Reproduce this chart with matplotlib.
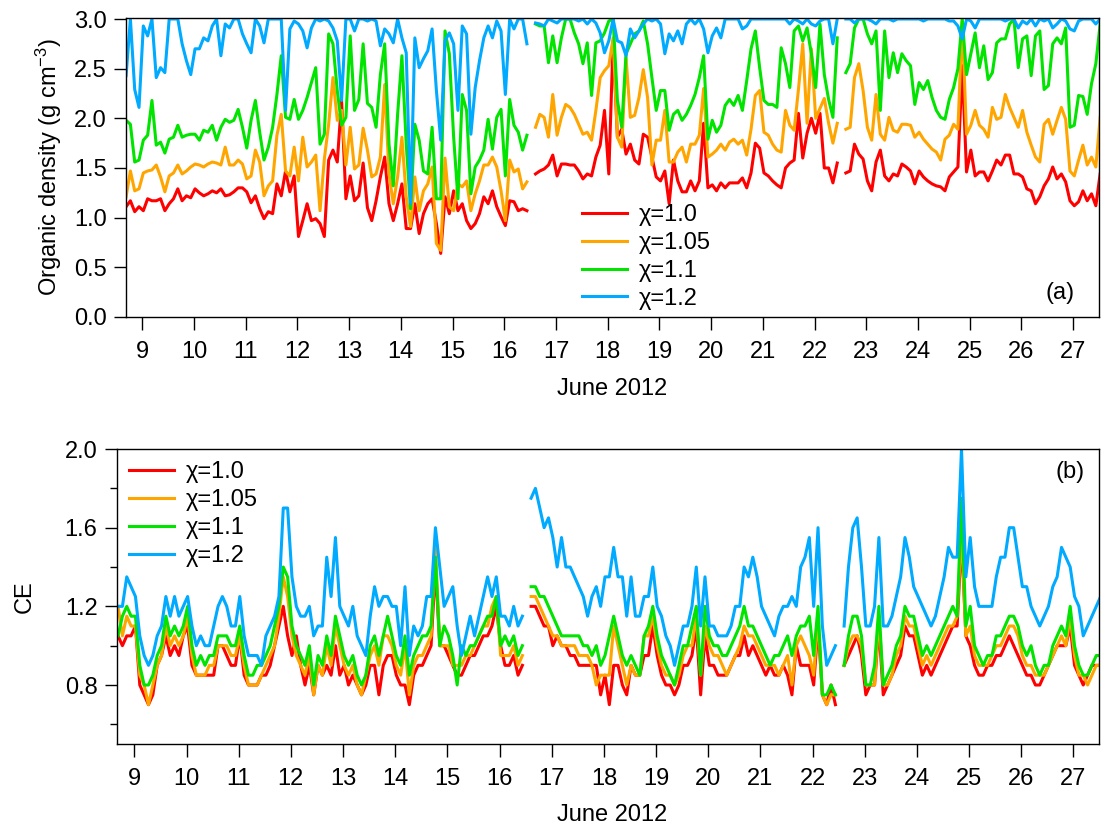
import numpy as np
import matplotlib
matplotlib.use('Agg')
import matplotlib.pyplot as plt
from matplotlib.ticker import MultipleLocator, FormatStrFormatter

plt.rcParams['font.family'] = ['Liberation Sans', 'DejaVu Sans']
plt.rcParams['mathtext.default'] = 'regular'

nan = np.nan

# 2-hourly samples, day of June 2012 (first point 8 June 16:30)
start_day = 8.6875
step_days = 1.0 / 12

# organic density (g cm-3) for each chi
dens_10 = [1.11, 1.17, 1.06, 1.11, 1.07, 1.19, 1.17, 1.17, 1.19, 1.07, 1.14, 1.19,
           1.29, 1.17, 1.22, 1.20, 1.29, 1.25, 1.22, 1.24, 1.27, 1.25, 1.29, 1.22,
           1.23, 1.26, 1.30, 1.30, 1.26, 1.15, 1.22, 1.09, 0.99, 1.06, 1.04, 1.34,
           1.22, 1.47, 1.26, 1.42, 0.81, 0.97, 1.14, 0.97, 0.99, 0.94, 0.81, 1.58,
           1.68, 1.56, 2.18, 1.19, 1.42, 1.17, 1.22, 1.55, 1.10, 0.97, 1.17, 1.41,
           1.61, 1.14, 0.97, 1.14, 1.34, 0.89, 0.89, 1.14, 0.84, 1.04, 1.14, 1.19,
           0.94, 0.64, 1.21, 1.04, 1.27, 1.07, 1.14, 0.97, 0.89, 0.94, 1.04, 1.21,
           1.14, 1.27, 1.11, 1.01, 0.92, 1.17, 1.16, 1.07, 1.09, 1.07, nan, 1.44,
           1.47, 1.49, 1.53, 1.63, 1.42, 1.54, 1.54, 1.53, 1.53, 1.47, 1.39, 1.44,
           1.42, 1.61, 1.73, 2.08, 1.44, 2.78, 1.81, 1.89, 1.64, 1.74, 1.58, 1.54,
           1.84, 1.81, 1.61, 1.41, 1.37, 1.47, 1.14, 1.58, 1.37, 1.26, 1.26, 1.37,
           1.27, 1.37, 1.95, 1.30, 1.33, 1.27, 1.35, 1.30, 1.35, 1.35, 1.35, 1.40,
           1.30, 1.45, 1.75, 1.70, 1.45, 1.42, 1.37, 1.33, 1.30, 1.50, 1.55, 1.58,
           2.05, 1.60, 1.85, 2.00, 1.85, 2.05, 1.50, 1.50, 1.35, 1.55, nan, 1.45,
           1.47, 1.74, 1.64, 1.59, 1.37, 1.27, 1.56, 1.68, 1.42, 1.37, 1.44, 1.42,
           1.54, 1.51, 1.47, 1.34, 1.47, 1.41, 1.37, 1.34, 1.32, 1.31, 1.27, 1.41,
           1.46, 1.51, 2.53, 1.46, 1.68, 1.42, 1.46, 1.46, 1.37, 1.47, 1.58, 1.53,
           1.63, 1.63, 1.44, 1.44, 1.41, 1.29, 1.27, 1.14, 1.21, 1.32, 1.39, 1.51,
           1.39, 1.44, 1.36, 1.17, 1.12, 1.16, 1.27, 1.17, 1.24, 1.12, 1.44]

dens_105 = [1.21, 1.47, 1.27, 1.29, 1.45, 1.47, 1.48, 1.53, 1.41, 1.26, 1.42, 1.45,
            1.53, 1.44, 1.47, 1.51, 1.54, 1.53, 1.51, 1.54, 1.56, 1.55, 1.53, 1.71,
            1.53, 1.53, 1.58, 1.54, 1.39, 1.42, 1.68, 1.56, 1.22, 1.32, 1.37, 1.83,
            2.04, 1.47, 1.42, 1.71, 1.37, 1.81, 1.51, 1.56, 1.63, 1.07, 1.59, 1.94,
            2.41, 1.98, 2.08, 1.53, 1.91, 1.49, 1.53, 1.90, 1.68, 1.41, 1.44, 1.61,
            2.34, 1.44, 1.14, 1.41, 1.81, 1.21, 0.91, 1.41, 1.07, 1.27, 1.34, 1.51,
            0.74, 0.67, 1.60, 1.11, 1.07, 1.34, 1.31, 1.37, 1.07, 1.24, 1.37, 1.53,
            1.53, 1.61, 1.51, 1.27, 0.97, 1.58, 1.46, 1.49, 1.29, 1.36, nan, 1.91,
            2.04, 2.01, 1.81, 2.24, 1.83, 2.01, 2.14, 2.11, 2.04, 1.94, 1.84, 1.86,
            1.78, 2.08, 2.41, 2.48, 2.53, 2.81, 1.81, 1.71, 2.61, 2.01, 2.03, 2.21,
            2.49, 2.21, 1.53, 1.78, 1.78, 2.08, 1.56, 1.56, 1.66, 1.71, 1.56, 1.74,
            1.74, 1.83, 2.30, 1.61, 1.64, 1.68, 1.74, 1.68, 1.76, 1.79, 1.74, 1.78,
            1.63, 1.89, 2.23, 2.28, 1.86, 1.83, 1.74, 1.68, 1.66, 2.08, 1.93, 1.88,
            2.29, 2.75, 1.95, 2.70, 2.00, 2.10, 2.20, 1.95, 1.75, 1.95, nan, 1.89,
            1.91, 2.41, 2.55, 2.28, 1.91, 1.78, 2.24, 1.84, 1.78, 2.01, 1.88, 1.86,
            1.94, 1.94, 1.93, 1.81, 1.86, 1.79, 1.74, 1.69, 1.66, 1.58, 1.79, 1.83,
            1.94, 1.89, 2.98, 1.84, 1.93, 2.08, 1.93, 1.89, 1.81, 2.11, 1.99, 2.01,
            2.24, 2.11, 2.01, 1.91, 2.08, 1.86, 1.73, 1.61, 1.56, 1.94, 1.99, 1.84,
            1.98, 2.11, 1.99, 1.47, 1.42, 1.58, 1.73, 1.53, 1.61, 1.51, 2.01]

dens_11 = [1.98, 1.94, 1.56, 1.58, 1.78, 1.83, 2.18, 1.73, 1.76, 1.65, 1.79, 1.81,
           1.93, 1.81, 1.83, 1.84, 1.84, 1.78, 1.88, 1.86, 1.93, 1.78, 1.91, 1.99,
           1.96, 1.98, 2.09, 1.91, 1.70, 1.98, 2.18, 1.86, 1.58, 1.71, 1.91, 2.24,
           2.63, 2.01, 1.99, 2.19, 1.99, 2.08, 2.21, 2.36, 2.51, 1.74, 1.84, 2.85,
           2.75, 2.28, 1.93, 2.01, 2.83, 2.08, 2.19, 2.75, 2.15, 2.11, 1.91, 2.44,
           2.75, 1.74, 1.32, 2.04, 2.63, 1.74, 1.09, 1.94, 1.78, 1.47, 1.44, 1.91,
           1.19, 1.19, 2.88, 2.65, 1.81, 1.19, 2.24, 2.08, 1.24, 1.51, 1.58, 1.68,
           1.99, 1.69, 2.01, 2.09, 1.42, 2.19, 1.93, 1.86, 1.68, 1.83, nan, 2.95,
           2.93, 2.93, 2.56, 2.83, 2.56, 2.81, 3.00, 3.00, 2.86, 2.75, 2.55, 2.76,
           2.23, 2.76, 2.78, 2.86, 2.98, 3.00, 2.18, 1.91, 2.65, 2.75, 2.85, 2.88,
           2.98, 2.75, 2.41, 2.08, 2.28, 2.28, 1.88, 2.04, 2.08, 1.98, 2.04, 2.13,
           2.24, 2.41, 2.63, 1.79, 1.98, 1.86, 1.93, 2.13, 2.19, 2.13, 2.23, 2.08,
           2.38, 2.70, 2.88, 2.51, 2.18, 2.14, 2.14, 2.11, 2.71, 2.55, 2.31, 2.88,
           2.93, 2.78, 2.91, 2.65, 2.31, 2.95, 2.44, 2.19, 2.01, 2.81, nan, 2.46,
           2.55, 2.91, 3.00, 3.00, 2.85, 2.75, 2.88, 2.08, 2.88, 2.41, 2.66, 2.46,
           2.65, 2.58, 2.53, 2.14, 2.36, 2.29, 2.38, 2.21, 2.08, 2.01, 1.99, 2.19,
           2.31, 2.50, 3.00, 2.44, 2.65, 2.86, 2.51, 2.73, 2.39, 2.46, 2.76, 2.80,
           2.80, 2.95, 3.00, 2.51, 2.80, 2.83, 2.43, 2.83, 2.88, 2.29, 2.33, 2.75,
           2.81, 2.75, 2.91, 1.91, 1.93, 2.23, 2.22, 2.04, 2.35, 2.55, 2.95]

dens_12 = [2.43, 3.00, 2.29, 2.11, 2.93, 2.83, 3.00, 2.41, 2.51, 2.46, 3.00, 3.00,
           3.00, 2.75, 2.58, 2.44, 2.70, 2.70, 2.81, 2.78, 2.93, 3.00, 2.63, 2.95,
           2.91, 3.00, 3.00, 2.85, 2.75, 2.66, 3.00, 2.93, 2.76, 3.00, 3.00, 3.00,
           3.00, 2.08, 2.90, 2.98, 2.95, 2.88, 2.71, 2.91, 3.00, 2.98, 3.00, 2.98,
           2.91, 2.78, 2.18, 3.00, 3.00, 2.88, 3.00, 3.00, 2.98, 3.00, 2.98, 2.73,
           2.90, 2.85, 2.76, 3.00, 2.81, 2.66, 1.14, 2.81, 2.51, 2.60, 2.68, 2.90,
           2.28, 1.78, 2.78, 2.86, 2.75, 2.08, 2.93, 2.85, 1.84, 2.31, 2.58, 2.81,
           2.93, 2.81, 2.98, 2.88, 2.24, 3.00, 2.90, 3.00, 3.00, 2.75, nan, 2.96,
           2.95, 2.93, 3.00, 2.98, 2.96, 3.00, 3.00, 3.00, 3.00, 2.98, 3.00, 2.95,
           3.00, 2.96, 2.86, 2.66, 2.78, 3.00, 2.78, 2.76, 2.63, 2.90, 2.81, 2.88,
           2.95, 3.00, 2.98, 3.00, 2.95, 2.65, 2.85, 2.78, 2.88, 2.75, 2.95, 3.00,
           2.95, 3.00, 2.90, 2.66, 2.83, 2.91, 2.81, 3.00, 3.00, 3.00, 3.00, 2.90,
           2.93, 3.00, 3.00, 3.00, 3.00, 3.00, 3.00, 3.00, 3.00, 3.00, 2.95, 3.00,
           2.98, 2.95, 3.00, 2.95, 2.93, 2.98, 3.00, 3.00, 2.75, 3.00, nan, 3.00,
           3.00, 2.96, 3.00, 3.00, 3.00, 2.98, 2.95, 3.00, 3.00, 3.00, 2.98, 3.00,
           3.00, 3.00, 3.00, 3.00, 3.00, 2.98, 3.00, 3.00, 3.00, 3.00, 3.00, 2.98,
           2.98, 2.93, 2.80, 3.00, 2.98, 2.91, 3.00, 3.00, 3.00, 3.00, 3.00, 3.00,
           2.98, 3.00, 3.00, 2.91, 2.98, 2.95, 3.00, 2.93, 3.00, 2.98, 3.00, 2.91,
           2.95, 3.00, 2.98, 2.90, 2.88, 2.98, 3.00, 3.00, 3.00, 2.95, 3.00]

# collection efficiency for each chi
ce_10 = [1.05, 1.00, 1.05, 1.05, 1.10, 0.80, 0.75, 0.70, 0.75, 0.90, 0.95, 1.05,
         0.95, 1.00, 0.95, 1.05, 1.10, 0.90, 0.85, 0.85, 0.85, 0.85, 0.85, 1.00,
         1.00, 0.95, 0.90, 0.90, 1.05, 0.85, 0.80, 0.80, 0.80, 0.85, 0.85, 0.90,
         1.00, 1.10, 1.20, 1.05, 0.95, 1.05, 0.90, 0.80, 0.90, 0.75, 0.90, 0.85,
         0.90, 0.85, 1.00, 0.85, 0.90, 0.80, 0.85, 0.80, 0.75, 0.80, 0.90, 0.90,
         0.75, 0.90, 0.95, 0.95, 0.85, 0.80, 0.80, 0.70, 0.85, 0.90, 0.90, 0.95,
         1.00, 1.40, 1.00, 1.00, 0.95, 0.90, 0.85, 0.85, 0.90, 0.95, 0.95, 1.00,
         1.05, 1.05, 1.10, 1.20, 1.00, 0.90, 0.90, 0.95, 0.85, 0.90, nan, 1.20,
         1.20, 1.15, 1.10, 1.10, 1.00, 1.05, 1.00, 1.00, 0.95, 0.95, 0.90, 0.90,
         0.90, 0.90, 0.90, 0.75, 0.85, 0.70, 0.90, 0.90, 0.80, 0.75, 0.90, 0.85,
         0.85, 0.95, 0.95, 1.10, 0.95, 0.85, 0.80, 0.80, 0.75, 0.80, 0.90, 0.90,
         0.95, 1.10, 0.75, 1.05, 0.90, 0.90, 0.85, 0.85, 0.85, 0.90, 0.95, 0.95,
         1.05, 0.95, 1.00, 0.95, 0.90, 0.85, 0.90, 0.85, 0.85, 0.90, 0.85, 0.75,
         1.00, 0.90, 0.90, 0.90, 0.80, 1.10, 0.75, 0.70, 0.80, 0.70, nan, 0.90,
         0.95, 1.00, 1.05, 0.95, 0.75, 0.80, 0.80, 1.10, 0.75, 0.80, 0.85, 0.90,
         0.95, 1.10, 1.05, 1.05, 0.95, 0.85, 0.90, 0.85, 0.90, 0.95, 1.00, 1.05,
         1.10, 1.10, 1.55, 1.05, 1.00, 0.90, 0.85, 0.85, 0.90, 0.90, 0.95, 0.95,
         1.00, 1.05, 1.00, 0.95, 0.90, 0.85, 0.85, 0.80, 0.80, 0.85, 0.90, 0.95,
         1.00, 1.00, 1.00, 1.10, 0.90, 0.85, 0.80, 0.85, 0.90, 0.90, 0.90]

ce_105 = [1.20, 1.05, 1.15, 1.10, 1.10, 0.85, 0.80, 0.70, 0.80, 0.90, 0.95, 1.10,
          1.00, 1.05, 1.00, 1.05, 1.15, 0.95, 0.85, 0.85, 0.85, 0.90, 0.90, 1.00,
          1.00, 1.00, 0.95, 0.95, 1.05, 0.90, 0.80, 0.80, 0.80, 0.85, 0.90, 0.95,
          1.00, 1.15, 1.35, 1.25, 1.05, 0.95, 0.90, 0.85, 0.95, 0.75, 0.90, 0.85,
          1.00, 0.90, 1.10, 1.00, 0.90, 0.85, 0.90, 0.80, 0.75, 0.85, 0.95, 1.00,
          0.90, 1.05, 1.05, 1.00, 0.90, 0.85, 1.00, 0.75, 0.90, 0.95, 0.95, 1.00,
          1.05, 1.50, 1.00, 1.00, 1.00, 0.90, 0.90, 0.90, 0.95, 0.95, 1.00, 1.05,
          1.10, 1.10, 1.20, 1.25, 0.95, 0.95, 0.95, 1.00, 0.90, 0.95, nan, 1.25,
          1.25, 1.20, 1.15, 1.10, 1.05, 1.05, 1.00, 1.00, 1.00, 1.00, 0.95, 0.95,
          0.95, 0.90, 0.80, 0.85, 0.85, 0.85, 1.10, 1.00, 0.90, 0.80, 0.90, 0.85,
          0.85, 1.05, 1.05, 1.15, 1.00, 0.90, 0.85, 0.85, 0.80, 0.85, 0.95, 1.00,
          1.00, 1.15, 0.85, 1.10, 1.00, 0.95, 0.95, 0.90, 0.85, 0.90, 0.95, 1.00,
          1.10, 1.05, 1.05, 1.00, 0.95, 0.90, 0.90, 0.90, 0.85, 0.90, 0.95, 0.80,
          1.00, 1.05, 1.00, 0.95, 0.85, 1.15, 0.75, 0.70, 0.75, 0.75, nan, 0.90,
          1.00, 1.05, 1.05, 1.00, 0.80, 0.80, 0.80, 1.15, 0.80, 0.80, 0.85, 0.95,
          1.00, 1.15, 1.10, 1.10, 1.00, 0.90, 0.95, 0.90, 0.95, 1.00, 1.05, 1.10,
          1.10, 1.15, 1.60, 1.05, 1.10, 0.95, 0.90, 0.90, 0.90, 0.95, 1.00, 1.00,
          1.05, 1.10, 1.10, 1.05, 0.95, 0.90, 0.90, 0.85, 0.85, 0.85, 0.90, 0.95,
          1.00, 1.05, 1.00, 1.15, 0.95, 0.85, 0.85, 0.80, 0.85, 0.90, 0.90]

ce_11 = [1.05, 1.15, 1.20, 1.15, 1.15, 0.90, 0.80, 0.80, 0.85, 0.95, 1.00, 1.15,
         1.05, 1.10, 1.05, 1.10, 1.20, 1.00, 0.90, 0.95, 0.90, 0.95, 0.95, 1.05,
         1.05, 1.05, 1.00, 1.00, 1.10, 0.95, 0.85, 0.85, 0.90, 0.90, 0.95, 1.00,
         1.10, 1.20, 1.40, 1.35, 1.10, 1.00, 0.95, 0.90, 1.00, 0.80, 0.95, 0.90,
         1.05, 0.95, 1.15, 1.05, 0.95, 0.90, 0.95, 0.85, 0.80, 0.85, 1.00, 1.05,
         0.95, 1.05, 1.15, 1.05, 0.95, 0.90, 1.05, 0.85, 0.95, 1.00, 1.05, 1.05,
         1.10, 1.45, 1.00, 1.10, 1.05, 0.95, 0.80, 1.00, 0.95, 1.00, 1.00, 1.05,
         1.10, 1.15, 1.15, 1.25, 1.00, 1.05, 1.00, 1.05, 0.95, 1.00, nan, 1.30,
         1.30, 1.25, 1.25, 1.20, 1.15, 1.10, 1.05, 1.05, 1.05, 1.05, 1.05, 1.00,
         1.00, 0.95, 1.00, 0.90, 0.95, 1.05, 1.15, 1.05, 0.95, 0.90, 0.95, 0.90,
         0.85, 1.05, 1.10, 1.20, 1.05, 0.95, 0.90, 0.85, 0.80, 0.90, 1.00, 1.00,
         1.10, 1.20, 0.85, 1.20, 1.05, 1.00, 1.00, 0.95, 0.95, 1.00, 1.05, 1.10,
         1.20, 1.10, 1.10, 1.05, 1.00, 0.95, 0.90, 0.95, 0.95, 1.00, 1.05, 0.95,
         1.05, 1.10, 1.10, 1.15, 0.95, 1.20, 0.75, 0.75, 0.80, 0.75, nan, 0.90,
         1.05, 1.15, 1.15, 1.05, 0.80, 0.80, 0.90, 1.20, 0.80, 0.85, 0.90, 1.00,
         1.05, 1.20, 1.15, 1.15, 1.05, 0.95, 1.00, 0.95, 1.00, 1.05, 1.10, 1.15,
         1.20, 1.15, 1.75, 1.10, 1.20, 1.00, 0.95, 0.90, 0.95, 0.95, 1.05, 1.05,
         1.10, 1.15, 1.15, 1.10, 1.00, 0.95, 1.00, 0.90, 0.85, 0.90, 0.90, 1.00,
         1.05, 1.10, 1.05, 1.20, 1.00, 0.90, 0.85, 0.85, 0.90, 0.95, 0.95]

ce_12 = [1.20, 1.20, 1.35, 1.30, 1.25, 1.05, 0.95, 0.90, 0.95, 1.05, 1.10, 1.25,
         1.15, 1.25, 1.15, 1.20, 1.25, 1.10, 1.00, 1.05, 1.00, 1.00, 1.10, 1.20,
         1.25, 1.20, 1.10, 1.10, 1.25, 1.05, 0.95, 0.95, 0.95, 0.90, 1.05, 1.10,
         1.15, 1.25, 1.70, 1.70, 1.35, 1.20, 1.15, 1.15, 1.20, 1.05, 1.10, 1.10,
         1.45, 1.25, 1.55, 1.20, 1.15, 1.10, 1.20, 1.05, 1.00, 0.95, 1.15, 1.30,
         1.20, 1.25, 1.25, 1.20, 1.20, 1.00, 1.30, 0.95, 1.10, 1.05, 1.10, 1.25,
         1.25, 1.60, 1.40, 1.20, 1.25, 1.30, 1.10, 0.95, 1.05, 1.15, 1.05, 1.15,
         1.25, 1.35, 1.25, 1.35, 1.15, 1.15, 1.10, 1.20, 1.10, 1.15, nan, 1.75,
         1.80, 1.70, 1.60, 1.65, 1.55, 1.40, 1.55, 1.40, 1.40, 1.35, 1.30, 1.25,
         1.15, 1.25, 1.30, 1.20, 1.35, 1.35, 1.50, 1.35, 1.35, 1.15, 1.35, 1.15,
         1.15, 1.25, 1.25, 1.40, 1.20, 1.15, 1.05, 1.00, 0.90, 1.00, 1.10, 1.10,
         1.20, 1.40, 1.10, 1.35, 1.10, 1.10, 1.05, 1.05, 1.05, 1.10, 1.20, 1.20,
         1.40, 1.35, 1.45, 1.35, 1.20, 1.15, 1.10, 1.05, 1.15, 1.20, 1.20, 1.25,
         1.20, 1.40, 1.45, 1.55, 1.20, 1.60, 1.10, 0.90, 0.95, 1.00, nan, 1.10,
         1.40, 1.60, 1.65, 1.40, 1.10, 1.10, 1.20, 1.55, 1.10, 1.10, 1.15, 1.25,
         1.35, 1.55, 1.45, 1.30, 1.25, 1.20, 1.15, 1.10, 1.15, 1.25, 1.35, 1.50,
         1.45, 1.45, 2.00, 1.35, 1.55, 1.30, 1.20, 1.20, 1.20, 1.20, 1.35, 1.45,
         1.45, 1.60, 1.60, 1.45, 1.30, 1.30, 1.20, 1.15, 1.10, 1.15, 1.20, 1.30,
         1.35, 1.50, 1.45, 1.40, 1.25, 1.20, 1.05, 1.10, 1.15, 1.20, 1.25]

labels = ['\u03c7=1.0', '\u03c7=1.05', '\u03c7=1.1', '\u03c7=1.2']
colors = ['#ff0000', '#ffa500', '#00e400', '#00aaff']

day = start_day + step_days * np.arange(len(dens_10))

fig = plt.figure(figsize=(11.01, 8.30), dpi=100)
ax1 = fig.add_axes([0.1144, 0.6181, 0.8837, 0.3602])
ax2 = fig.add_axes([0.1063, 0.1036, 0.8919, 0.3554])

fs = 17

for y, c, lab in zip([dens_10, dens_105, dens_11, dens_12], colors, labels):
    ax1.plot(day, y, color=c, lw=2.2, label=lab)
for y, c, lab in zip([ce_10, ce_105, ce_11, ce_12], colors, labels):
    ax2.plot(day, y, color=c, lw=2.2, label=lab)

ax1.set_xlim(8.685, 27.497)
ax1.set_ylim(0, 3.01)
ax1.yaxis.set_major_locator(MultipleLocator(0.5))
ax1.set_ylabel('Organic density (g cm$^{-3}$)', fontsize=fs)
ax1.yaxis.set_label_coords(-0.064, 0.5)

ax2.set_xlim(8.668, 27.49)
ax2.set_ylim(0.5, 2.0)
ax2.yaxis.set_major_locator(MultipleLocator(0.4))
ax2.yaxis.set_minor_locator(MultipleLocator(0.2))
ax2.set_ylabel('CE', fontsize=fs)
ax2.yaxis.set_label_coords(-0.0825, 0.5)

for ax in (ax1, ax2):
    ax.set_xticks(range(9, 28))
    ax.tick_params(which='major', direction='out', length=9, width=1,
                   labelsize=fs, pad=5)
    ax.tick_params(axis='x', which='major', pad=8)
    ax.tick_params(which='minor', direction='out', length=5, width=1)
    ax.xaxis.set_minor_locator(plt.NullLocator())
    ax.yaxis.set_major_formatter(FormatStrFormatter('%.1f'))
    for s in ax.spines.values():
        s.set_linewidth(1.0)

ax1.legend(loc='upper left', bbox_to_anchor=(0.4687, 0.378), frameon=False,
           fontsize=fs, handlelength=1.9, handletextpad=0.5, labelspacing=0.25,
           borderpad=0, borderaxespad=0)
ax2.legend(loc='upper left', bbox_to_anchor=(0.0122, 0.959), frameon=False,
           fontsize=fs, handlelength=1.9, handletextpad=0.5, labelspacing=0.25,
           borderpad=0, borderaxespad=0)

ax1.text(0.96, 0.08, '(a)', transform=ax1.transAxes, fontsize=fs,
         ha='center', va='center')
ax2.text(0.9705, 0.922, '(b)', transform=ax2.transAxes, fontsize=fs,
         ha='center', va='center')

fig.text(0.556, 0.5313, 'June 2012', fontsize=fs, ha='center', va='center')
fig.text(0.556, 0.018, 'June 2012', fontsize=fs, ha='center', va='center')

fig.savefig('out.png', dpi=100)
